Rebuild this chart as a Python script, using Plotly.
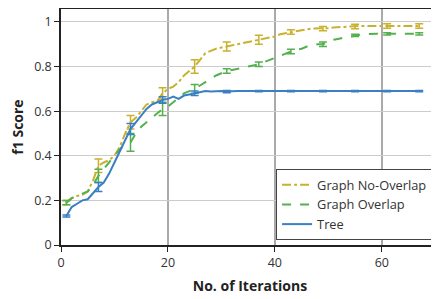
import plotly.graph_objects as go

iterations = list(range(1, 68))

tree = [0.13, 0.17, 0.185, 0.20, 0.205, 0.235, 0.26, 0.28, 0.32, 0.37,
        0.42, 0.47, 0.52, 0.55, 0.58, 0.61, 0.63, 0.64, 0.65, 0.655,
        0.665, 0.655, 0.67, 0.675, 0.68, 0.685, 0.69, 0.688, 0.69, 0.69,
        0.688] + [0.69] * 36

no_overlap = [0.19, 0.21, 0.22, 0.225, 0.24, 0.29, 0.355, 0.37, 0.38, 0.40,
              0.44, 0.50, 0.55, 0.57, 0.60, 0.63, 0.64, 0.645, 0.68, 0.70,
              0.71, 0.73, 0.76, 0.78, 0.80, 0.83, 0.86, 0.87, 0.88, 0.885,
              0.89, 0.895, 0.90, 0.905, 0.91, 0.915, 0.92, 0.925, 0.93, 0.935,
              0.945, 0.95, 0.955, 0.96, 0.965, 0.967, 0.97, 0.97, 0.97, 0.972,
              0.975, 0.977, 0.978, 0.98, 0.98] + [0.982] * 12

overlap = [0.19, 0.21, 0.22, 0.23, 0.24, 0.27, 0.31, 0.34, 0.37, 0.40,
           0.43, 0.45, 0.46, 0.50, 0.53, 0.55, 0.57, 0.59, 0.61, 0.62,
           0.64, 0.66, 0.68, 0.69, 0.70, 0.715, 0.73, 0.745, 0.76, 0.77,
           0.78, 0.785, 0.79, 0.795, 0.80, 0.805, 0.81, 0.82, 0.83, 0.84,
           0.85, 0.86, 0.867, 0.875, 0.88, 0.89, 0.895, 0.90, 0.90, 0.91,
           0.92, 0.925, 0.93, 0.935, 0.94, 0.943, 0.945] + [0.947] * 10

err_iterations = [1, 7, 13, 19, 25, 31, 37, 43, 49, 55, 61, 67]
no_overlap_err = [0.01, 0.03, 0.03, 0.025, 0.03, 0.02, 0.02, 0.01, 0.01, 0.01, 0.01, 0.01]
overlap_err = [0.01, 0.03, 0.04, 0.03, 0.02, 0.01, 0.01, 0.01, 0.01, 0.005, 0.005, 0.005]
tree_err = [0.005, 0.02, 0.025, 0.015, 0.01, 0.005, 0.003, 0.003, 0.003, 0.003, 0.003, 0.003]

series = [
    ("Graph No-Overlap", no_overlap, no_overlap_err, "#c9b12e", "dashdot"),
    ("Graph Overlap", overlap, overlap_err, "#55b04f", "dash"),
    ("Tree", tree, tree_err, "#3a7fc4", "solid"),
]

fig = go.Figure()
for name, vals, errs, color, dash in series:
    ey = [vals[iterations.index(i)] for i in err_iterations]
    fig.add_trace(go.Scatter(
        x=err_iterations, y=ey, mode="markers",
        marker=dict(size=2, color="rgba(0,0,0,0)"),
        error_y=dict(type="data", array=errs, color=color, thickness=1.5, width=4),
        showlegend=False, hoverinfo="skip"))
    fig.add_trace(go.Scatter(
        x=iterations, y=vals, mode="lines", name=name,
        line=dict(color=color, width=2, dash=dash)))

fig.update_layout(
    width=431, height=291,
    margin=dict(l=53, r=0, t=1, b=54),
    paper_bgcolor="white", plot_bgcolor="white",
    font=dict(family="Open Sans, Noto Sans, sans-serif", size=12.5, color="#333"),
    legend=dict(x=0.569, y=0.322, xanchor="left", yanchor="top",
                bordercolor="#444", borderwidth=1, bgcolor="white",
                font=dict(size=12.8, color="#333"), tracegroupgap=0,
                itemwidth=30),
    xaxis=dict(range=[0, 70.7], tickvals=[0, 20, 40, 60],
               showgrid=True, gridcolor="#aaaaaa", gridwidth=2,
               showline=True, linecolor="#222", linewidth=1.5, mirror=True,
               ticks="outside", ticklen=5, tickcolor="#222",
               zeroline=False, automargin=False,
               title=dict(text="<b>No. of Iterations</b>", font=dict(size=14, color="#222"), standoff=11)),
    yaxis=dict(range=[0, 1.058], tickvals=[0, 0.2, 0.4, 0.6, 0.8, 1],
               ticktext=["0", "0.2", "0.4", "0.6", "0.8", "1"],
               showgrid=True, gridcolor="#cccccc", gridwidth=1,
               showline=True, linecolor="#222", linewidth=1.5, mirror=True,
               ticks="outside", ticklen=5, tickcolor="#222",
               zeroline=False, automargin=False,
               title=dict(text="<b>f1 Score</b>", font=dict(size=14, color="#222"), standoff=8)),
)

fig.write_html("out.html")
